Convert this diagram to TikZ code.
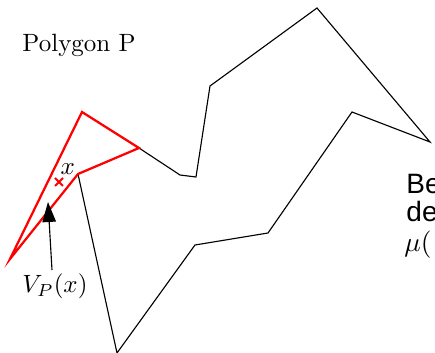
\documentclass[tikz,border=0pt]{standalone}
\usepackage{fontspec}
\newfontfamily\sansfont{Liberation Sans}
\usetikzlibrary{arrows.meta,calc}
\tikzset{
  poly/.style={draw=black, line width=0.45pt, line join=miter},
  vis/.style={draw=red, line width=0.9pt, line join=miter},
  lbl/.style={inner sep=0pt, anchor=base west},
  note/.style={lbl, font=\sansfont\fontsize{11.2pt}{13pt}\selectfont},
  pointer/.style={draw=black, line width=0.45pt, -{Triangle[length=8pt,width=5.4pt]}},
}
\begin{document}
\begin{tikzpicture}[x=0.4pt,y=-0.4pt]
\useasboundingbox (0,0) rectangle (435,353);
\clip (0,0) rectangle (435,353);
% polygon vertices
\coordinate (a) at (10,259);
\coordinate (b) at (82,112);
\coordinate (c) at (139,148);
\coordinate (d) at (180,175);
\coordinate (e) at (196,177);
\coordinate (f) at (210,86);
\coordinate (g) at (317,8);
\coordinate (h) at (430,142);
\coordinate (i) at (352,112);
\coordinate (j) at (268,233);
\coordinate (k) at (195,245);
\coordinate (l) at (117,353);
\coordinate (m) at (78,174);
% polygon P (black part)
\draw[poly] (c) -- (d) -- (e) -- (f) -- (g) -- (h) -- (i) -- (j) -- (k) -- (l) -- (m);
% visibility polygon
\draw[vis] (a) -- (b) -- (c) -- (m) -- cycle;
% point x
\coordinate (px) at (59,182);
\draw[red, line width=0.8pt] ($(px)+(-4,-4)$) -- ($(px)+(4,4)$) ($(px)+(-4,4)$) -- ($(px)+(4,-4)$);
\node[lbl] (xl) at (60,174) {$x$};
% labels
\node[lbl] (title) at (22,52) {Polygon P};
\node[lbl] (vp) at (22,293) {$V_P(x)$};
\coordinate (tip) at (48,202);
\coordinate (tail) at (52,270);
\draw[pointer] (tail) -- (tip);
\node[note] (note1) at (406,194) {Be};
\node[note] (note2) at (406,222) {de};
\node[note] (note3) at (404,251) {$\mu($};
\end{tikzpicture}
\end{document}
